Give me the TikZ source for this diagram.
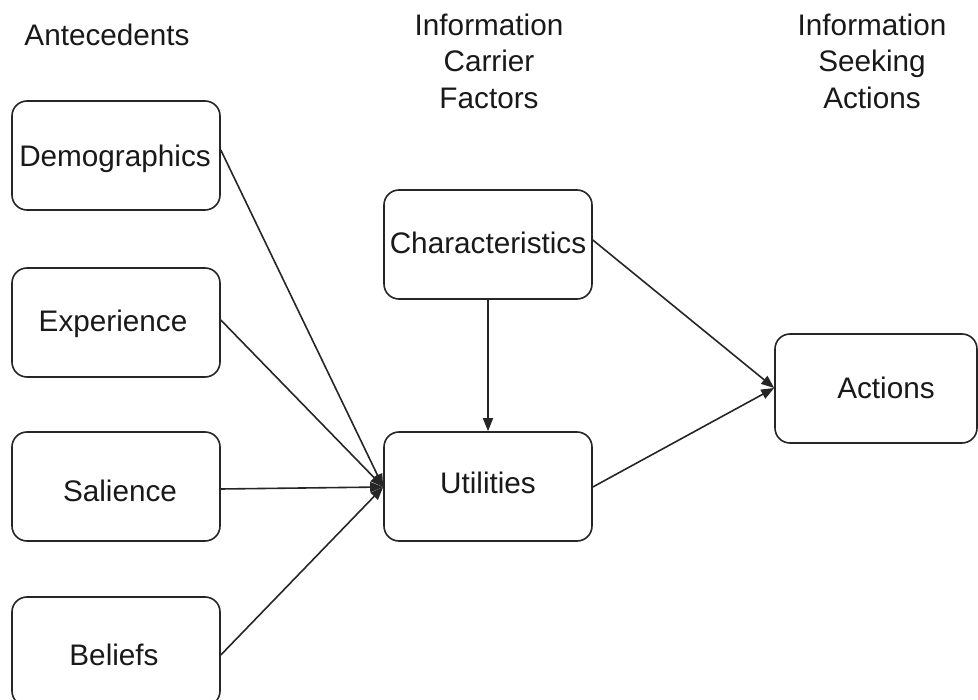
\documentclass[tikz,border=0pt]{standalone}
\usepackage{fontspec}
\setmainfont{Liberation Sans}
\usetikzlibrary{arrows.meta}
\begin{document}
\begin{tikzpicture}[x=1pt,y=-1pt,
  box/.style={draw=black!85, line width=1.6pt, rounded corners=15pt,
    minimum width=208pt, minimum height=109pt, inner sep=0pt, fill=white},
  txt/.style={font=\fontsize{29.7}{36.5}\selectfont, text=black!90, inner sep=0pt, align=center},
  link/.style={draw=black!85, line width=1.6pt, -{Triangle[length=13pt,width=10pt]}}]
\useasboundingbox (0,0) rectangle (978,700);
\clip (0,0) rectangle (978,700);

% column headings
\node[txt] (hA) at (107,35) {Antecedents};
\node[txt] (hB) at (489,61) {Information\\Carrier\\Factors};
\node[txt] (hC) at (872,61) {Information\\Seeking\\Actions};

% boxes
\node[box] (dem) at (116,155.5) {};
\node[box] (exp) at (116,322.5) {};
\node[box] (sal) at (116,486.5) {};
\node[box] (bel) at (116,651.5) {};
\node[box] (cha) at (488,244.5) {};
\node[box] (uti) at (488,486.5) {};
\node[box, minimum width=202pt] (act) at (876,388.5) {};

% box labels
\node[txt] (tdem) at (115,159) {Demographics};
\node[txt] (texp) at (113,324) {Experience};
\node[txt] (tsal) at (120,491) {Salience};
\node[txt] (tbel) at (114,655) {Beliefs};
\node[txt] (tcha) at (488,243) {Characteristics};
\node[txt] (tuti) at (488,483) {Utilities};
\node[txt] (tact) at (886,388) {Actions};

% connection points (yshift in pt, positive = upwards)
\coordinate (in) at ([yshift=-0.5pt]uti.west);
\coordinate (dOut) at ([yshift=5.5pt]dem.east);
\coordinate (eOut) at ([yshift=2.5pt]exp.east);
\coordinate (sOut) at ([yshift=-2.5pt]sal.east);
\coordinate (bOut) at ([yshift=-3.5pt]bel.east);
\coordinate (cOut) at ([yshift=4.5pt]cha.east);
\coordinate (uOut) at ([yshift=-0.5pt]uti.east);
\coordinate (aIn) at ([yshift=0.5pt]act.west);

% arrows
\draw[link] (dOut) -- (in);
\draw[link] (eOut) -- (in);
\draw[link] (sOut) -- (in);
\draw[link] (bOut) -- (in);
\draw[link] (cha.south) -- (uti.north);
\draw[link] (cOut) -- (aIn);
\draw[link] (uOut) -- (aIn);
\end{tikzpicture}
\end{document}
